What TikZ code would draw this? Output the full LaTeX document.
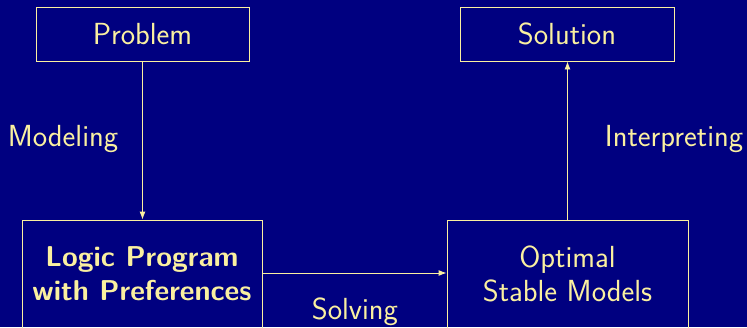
\documentclass[tikz,border=0pt]{standalone}
\usetikzlibrary{arrows.meta,positioning}
\definecolor{bgblue}{RGB}{0,0,128}
\definecolor{lightyel}{RGB}{250,240,160}
\begin{document}
\begin{tikzpicture}[x=1pt,y=-1pt,
  every node/.style={font=\sffamily\fontsize{30.5}{34}\selectfont, text=lightyel, inner sep=0pt},
  box/.style={draw=lightyel, line width=0.9pt, rectangle},
  conn/.style={draw=lightyel, line width=0.9pt, -{Latex[length=8pt,width=6pt]}},
  lbl/.style={font=\sffamily\fontsize{30.5}{34}\selectfont}]
\fill[bgblue] (0,0) rectangle (747,327);
\useasboundingbox (0,0) rectangle (747,327);
\node[box, minimum width=213pt, minimum height=54pt] (prob) at (142.5,34) {Problem};
\node[box, minimum width=214pt, minimum height=54pt] (sol) at (567,34) {Solution};
\node[box, minimum width=240pt, minimum height=108pt, align=center, font=\sffamily\bfseries\fontsize{28.7}{34}\selectfont] (lp) at (142,274) {Logic Program\\with Preferences};
\node[box, minimum width=241pt, minimum height=108pt, align=center] (osm) at (567.5,274) {Optimal\\Stable Models};
\draw[conn] (prob.south) -- (prob.south |- lp.north) coordinate (a1);
\draw[conn] (osm.north) -- (osm.north |- sol.south);
\draw[conn] (lp.east |- 0,273) coordinate (s1) -- (osm.west |- s1);
\node[lbl] (mod) at (63,139) {Modeling};
\node[lbl] (interp) at (674,139) {Interpreting};
\node[lbl] (solv) at (355,312) {Solving};
\end{tikzpicture}
\end{document}
